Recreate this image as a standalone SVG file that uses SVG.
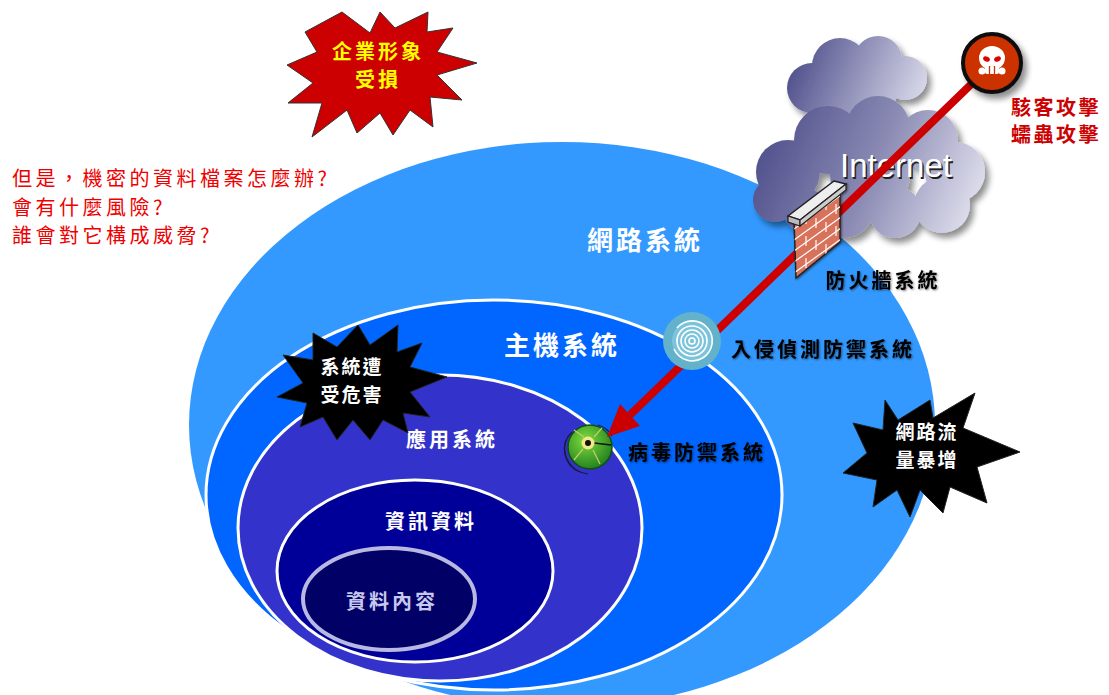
<svg xmlns="http://www.w3.org/2000/svg" width="1109" height="695" viewBox="0 0 1109 695">
  <defs>
    <style>
      .cjk{font-family:"Noto Sans CJK TC","Noto Sans CJK SC",sans-serif;}
      .white{fill:#ffffff;font-weight:bold;}
      .black{fill:#000000;font-weight:bold;}
      .red{fill:#ee0000;}
      .dred{fill:#cc0000;font-weight:bold;}
      .yel{fill:#ffff00;font-weight:bold;}
      .ring{stroke:#ffffff;stroke-width:3;}
      .burst{fill:#000000;stroke:#222222;stroke-width:1;}
      .mortar{stroke:#ffffff;stroke-width:1.2;fill:none;}
    </style>
    <linearGradient id="cloudA" gradientUnits="userSpaceOnUse" x1="785" y1="50" x2="930" y2="110">
      <stop offset="0" stop-color="#454585"/>
      <stop offset="1" stop-color="#e4e4f2"/>
    </linearGradient>
    <linearGradient id="cloudB" gradientUnits="userSpaceOnUse" x1="755" y1="120" x2="990" y2="220">
      <stop offset="0" stop-color="#4a4a88"/>
      <stop offset="0.5" stop-color="#8a8ab4"/>
      <stop offset="1" stop-color="#ececf6"/>
    </linearGradient>
    <radialGradient id="virusGrad" cx="0.4" cy="0.35" r="0.7">
      <stop offset="0" stop-color="#7ddc3c"/>
      <stop offset="1" stop-color="#1f7d1f"/>
    </radialGradient>
    <filter id="shadow" x="-20%" y="-20%" width="150%" height="150%">
      <feGaussianBlur in="SourceAlpha" stdDeviation="3"/>
      <feOffset dx="4" dy="5" result="b"/>
      <feComponentTransfer><feFuncA type="linear" slope="0.45"/></feComponentTransfer>
      <feMerge><feMergeNode/><feMergeNode in="SourceGraphic"/></feMerge>
    </filter>
    <filter id="glow" x="-10%" y="-30%" width="120%" height="160%">
      <feGaussianBlur in="SourceAlpha" stdDeviation="1.2"/>
      <feOffset dx="1" dy="1"/>
      <feComponentTransfer><feFuncA type="linear" slope="0.5"/></feComponentTransfer>
      <feMerge><feMergeNode/><feMergeNode in="SourceGraphic"/></feMerge>
    </filter>
    <clipPath id="wallClip">
      <polygon points="794,220 840,186 840,242 796,278"/>
    </clipPath>
  </defs>

  <rect width="1109" height="695" fill="#ffffff"/>

  <!-- nested system layers -->
  <g id="network-layer">
    <ellipse cx="562" cy="425" rx="373" ry="283" fill="#3399ff"/>
    <text class="cjk white" x="645" y="250" font-size="26" text-anchor="middle" letter-spacing="3">網路系統</text>
  </g>
  <g id="host-layer">
    <ellipse class="ring" cx="494" cy="495" rx="288" ry="195" fill="#0066ff"/>
    <text class="cjk white" x="562" y="355" font-size="26" text-anchor="middle" letter-spacing="3">主機系統</text>
  </g>
  <g id="app-layer">
    <ellipse class="ring" cx="440" cy="528" rx="202" ry="153" fill="#3333cc"/>
    <text class="cjk white" x="452" y="447" font-size="20" text-anchor="middle" letter-spacing="3">應用系統</text>
  </g>
  <g id="info-layer">
    <ellipse class="ring" cx="415" cy="571" rx="138" ry="91" fill="#000099"/>
    <text class="cjk white" x="431" y="529" font-size="20" text-anchor="middle" letter-spacing="3">資訊資料</text>
  </g>
  <g id="data-layer">
    <ellipse cx="389" cy="599" rx="86" ry="51" fill="#000066" stroke="#b8b8e2" stroke-width="4"/>
    <text class="cjk" x="392" y="609" font-size="20" text-anchor="middle" letter-spacing="3" fill="#c8c8ee" font-weight="bold">資料內容</text>
  </g>

  <!-- questions -->
  <g id="questions" class="cjk red" font-size="20" letter-spacing="3.5">
    <text x="12" y="186">但是，機密的資料檔案怎麼辦?</text>
    <text x="12" y="215">會有什麼風險?</text>
    <text x="12" y="243">誰會對它構成威脅?</text>
  </g>

  <!-- impact bursts -->
  <g id="burst-image">
    <polygon points="305,32 342,12 370,33 380,12 395,28 428,12 427,32 453,28 437,52 477,63 437,75 462,100 430,97 433,127 410,110 393,135 380,113 357,133 347,110 312,137 322,103 288,103 313,83 287,65 317,52" fill="#cc0000" stroke="#333333" stroke-width="1"/>
    <text class="cjk yel" x="378" y="59" font-size="20" text-anchor="middle" letter-spacing="3">企業形象</text>
    <text class="cjk yel" x="378" y="87" font-size="20" text-anchor="middle" letter-spacing="3">受損</text>
  </g>
  <g id="burst-system">
    <polygon class="burst" points="313,333 337,347 358,325 370,345 398,325 397,352 422,343 410,367 447,377 410,392 430,417 403,413 408,433 383,420 370,440 353,420 337,440 323,417 300,427 307,403 277,397 303,383 283,355 313,360"/>
    <text class="cjk white" x="352" y="374" font-size="19" text-anchor="middle" letter-spacing="2">系統遭</text>
    <text class="cjk white" x="352" y="402" font-size="19" text-anchor="middle" letter-spacing="2">受危害</text>
  </g>
  <g id="burst-traffic">
    <polygon class="burst" points="885,400 898,420 930,400 933,418 975,393 963,428 1020,452 977,467 987,503 950,487 943,513 920,490 910,517 897,490 873,507 877,480 843,473 867,453 853,423 883,430"/>
    <text class="cjk white" x="927" y="439" font-size="19" text-anchor="middle" letter-spacing="2">網路流</text>
    <text class="cjk white" x="927" y="467" font-size="19" text-anchor="middle" letter-spacing="2">量暴增</text>
  </g>

  <!-- internet cloud -->
  <g id="internet">
    <g filter="url(#shadow)">
      <g fill="url(#cloudA)">
        <circle cx="812" cy="88" r="25"/>
        <circle cx="840" cy="66" r="28"/>
        <circle cx="878" cy="60" r="24"/>
        <circle cx="905" cy="78" r="22"/>
        <circle cx="872" cy="95" r="24"/>
        <circle cx="835" cy="100" r="20"/>
      </g>
      <g fill="url(#cloudB)">
        <circle cx="788" cy="172" r="32"/>
        <circle cx="775" cy="200" r="22"/>
        <circle cx="828" cy="140" r="34"/>
        <circle cx="878" cy="128" r="32"/>
        <circle cx="928" cy="140" r="30"/>
        <circle cx="955" cy="172" r="30"/>
        <circle cx="942" cy="205" r="28"/>
        <circle cx="895" cy="212" r="26"/>
        <circle cx="845" cy="210" r="28"/>
        <circle cx="805" cy="210" r="22"/>
        <circle cx="870" cy="175" r="40"/>
      </g>
    </g>
    <text x="896" y="177" font-family="Liberation Sans, Arial, sans-serif" font-size="33" text-anchor="middle" fill="#222222" transform="translate(1.5,1.5)">Internet</text>
    <text x="896" y="177" font-family="Liberation Sans, Arial, sans-serif" font-size="33" text-anchor="middle" fill="#ffffff">Internet</text>
  </g>

  <!-- attack path -->
  <g id="connectors">
    <line x1="990" y1="66" x2="630" y2="415" stroke="#cc0000" stroke-width="8"/>
  </g>

  <!-- firewall -->
  <g id="firewall" filter="url(#glow)">
    <polygon points="794,220 840,186 840,242 796,278" fill="#d8725a" stroke="#222222" stroke-width="1.5"/>
    <g clip-path="url(#wallClip)" class="mortar">
      <path d="M790,232 L845,192 M790,243 L845,203 M790,254 L845,214 M790,265 L845,225 M790,276 L845,236 M790,287 L845,247"/>
      <path d="M806,214 L806,224 M826,200 L826,210 M816,218 L816,228 M836,204 L836,214 M806,236 L806,246 M826,222 L826,232 M816,240 L816,250 M836,226 L836,236 M806,258 L806,268 M826,244 L826,254 M816,262 L816,272 M836,248 L836,258"/>
    </g>
    <polygon points="788,216 834,181 846,184 800,220" fill="#eeeeee" stroke="#222222" stroke-width="1.5"/>
    <polygon points="788,216 800,220 800,226 788,222" fill="#bbbbbb" stroke="#222222" stroke-width="1.2"/>
    <polygon points="800,220 846,184 846,190 800,226" fill="#cccccc" stroke="#222222" stroke-width="1.2"/>
    <text class="cjk black" x="883" y="288" font-size="20" text-anchor="middle" letter-spacing="3">防火牆系統</text>
  </g>

  <!-- intrusion detection -->
  <g id="ids">
    <circle cx="692" cy="341" r="29" fill="#62b2cc"/>
    <circle cx="692" cy="341" r="20" fill="#7cc4dc"/>
    <g fill="none" stroke="#ffffff" stroke-width="1.6">
      <circle cx="692" cy="341" r="3"/>
      <circle cx="692" cy="341" r="7"/>
      <circle cx="692" cy="341" r="11"/>
      <circle cx="692" cy="341" r="15"/>
      <path d="M677,328 A20,20 0 1 1 674,349"/>
    </g>
    <text class="cjk black" x="823" y="357" font-size="20" text-anchor="middle" letter-spacing="3" filter="url(#glow)">入侵偵測防禦系統</text>
  </g>

  <!-- antivirus -->
  <g id="antivirus">
    <g fill="none" stroke="#1a1a40" stroke-width="1.2">
      <path d="M572,432 A24,24 0 0 0 580,472"/>
      <path d="M566,440 A26,26 0 0 0 588,474"/>
      <path d="M598,425 A23,23 0 0 1 612,436"/>
    </g>
    <circle cx="590" cy="447" r="22" fill="url(#virusGrad)" stroke="#0f4f0f" stroke-width="1.5"/>
    <g stroke="#c8cc66" stroke-width="1.2">
      <line x1="584" y1="437" x2="574" y2="430"/>
      <line x1="594" y1="437" x2="602" y2="428"/>
      <line x1="583" y1="449" x2="574" y2="460"/>
      <line x1="593" y1="450" x2="600" y2="464"/>
    </g>
    <line x1="594" y1="443" x2="611" y2="445" stroke="#111111" stroke-width="1.3"/>
    <circle cx="588" cy="443" r="6.5" fill="#f2e88a"/>
    <circle cx="588" cy="443" r="3" fill="#111111"/>
    <text class="cjk black" x="697" y="460" font-size="20" text-anchor="middle" letter-spacing="3" filter="url(#glow)">病毒防禦系統</text>
  </g>

  <!-- arrowhead on attack path -->
  <g id="arrowhead">
    <polygon points="607,437 640,426 620,404" fill="#cc0000"/>
  </g>

  <!-- attacker -->
  <g id="attacker">
    <circle cx="992" cy="63" r="29" fill="#cc3300" stroke="#111111" stroke-width="4" filter="url(#shadow)"/>
    <ellipse cx="992" cy="58" rx="13" ry="12" fill="#ffffff"/>
    <rect x="985" y="63" width="14" height="11" rx="2" fill="#ffffff"/>
    <circle cx="982" cy="71" r="3.5" fill="#ffffff"/>
    <circle cx="1002" cy="71" r="3.5" fill="#ffffff"/>
    <ellipse cx="986.5" cy="59" rx="3.5" ry="2.5" fill="#dd0000" transform="rotate(25 986.5 59)"/>
    <ellipse cx="997.5" cy="59" rx="3.5" ry="2.5" fill="#dd0000" transform="rotate(-25 997.5 59)"/>
    <path d="M989.5,66 V74 M994.5,66 V74" stroke="#cc3300" stroke-width="1.3"/>
    <text class="cjk dred" x="1056" y="115" font-size="20" text-anchor="middle" letter-spacing="2.5">駭客攻擊</text>
    <text class="cjk dred" x="1056" y="142" font-size="20" text-anchor="middle" letter-spacing="2.5">蠕蟲攻擊</text>
  </g>
</svg>
